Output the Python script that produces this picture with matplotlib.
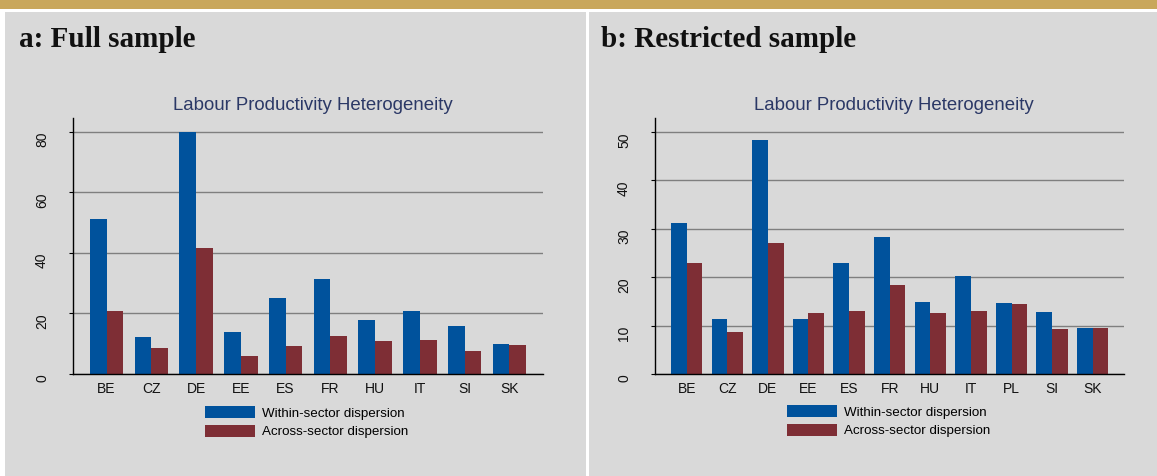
import numpy as np
import matplotlib
matplotlib.use("Agg")
import matplotlib.pyplot as plt
from matplotlib.patches import Rectangle

# data
countries_a = ["BE", "CZ", "DE", "EE", "ES", "FR", "HU", "IT", "SI", "SK"]
within_a = [51.1, 12.3, 80.0, 14.0, 25.1, 31.4, 18.0, 20.9, 15.9, 10.0]
across_a = [20.9, 8.7, 41.6, 6.0, 9.3, 12.6, 11.0, 11.3, 7.7, 9.7]

countries_b = ["BE", "CZ", "DE", "EE", "ES", "FR", "HU", "IT", "PL", "SI", "SK"]
within_b = [31.3, 11.3, 48.4, 11.4, 23.0, 28.4, 14.9, 20.3, 14.7, 12.9, 9.6]
across_b = [23.0, 8.7, 27.1, 12.7, 13.1, 18.3, 12.7, 13.1, 14.5, 9.4, 9.6]

panel_titles = ["a: Full sample", "b: Restricted sample"]
chart_title = "Labour Productivity Heterogeneity"
legend_labels = ["Within-sector dispersion", "Across-sector dispersion"]

BLUE = "#00529c"
RED = "#7e2e35"
GRAY_BG = "#d9d9d9"
GOLD = "#c9a75b"
TITLE_BLUE = "#2b3866"

plt.rcParams['font.family'] = ['Liberation Sans', 'DejaVu Sans']

W, H = 1157, 476
fig = plt.figure(figsize=(W / 100, H / 100), dpi=100)
fig.patch.set_facecolor("white")


def px_box(x0, y0, x1, y1):
    # pixel box (top-left origin) -> figure fraction rect
    return [x0 / W, 1 - y1 / H, (x1 - x0) / W, (y1 - y0) / H]


# background pieces
bg = fig.add_axes([0, 0, 1, 1])
bg.set_xlim(0, W)
bg.set_ylim(H, 0)
bg.axis("off")
bg.add_patch(Rectangle((0, 0), W, 9, color=GOLD, lw=0))
bg.add_patch(Rectangle((5, 12), 581, H - 12, color=GRAY_BG, lw=0))
bg.add_patch(Rectangle((589, 12), W - 589, H - 12, color=GRAY_BG, lw=0))


def draw_panel(box, countries, within, across, step, top, width, xlim,
               title_x, chart_title_x, legend_xy, ptitle):
    ax = fig.add_axes(px_box(*box))
    x = np.arange(len(countries))
    b1 = ax.bar(x - width / 2, within, width, color=BLUE, zorder=2)
    b2 = ax.bar(x + width / 2, across, width, color=RED, zorder=2)
    ax.set_facecolor("none")
    ax.set_xlim(*xlim)
    ax.set_ylim(0, top)
    ax.set_yticks(np.arange(0, top, step))
    ax.set_xticks(x)
    ax.set_xticklabels(countries)
    ax.yaxis.grid(True, color="#7f7f7f", lw=1.0)
    ax.set_axisbelow(True)
    for s in ["top", "right"]:
        ax.spines[s].set_visible(False)
    for s in ["left", "bottom"]:
        ax.spines[s].set_linewidth(1.0)
    ax.tick_params(axis="x", length=0, pad=6, labelsize=10, labelcolor="#111111")
    ax.tick_params(axis="y", length=3.2, width=0.8, pad=14, labelsize=10,
                   labelcolor="#111111")
    for lab in ax.get_yticklabels():
        lab.set_rotation(90)
        lab.set_va("top")
        lab.set_ha("right")

    fig.text(title_x / W, 1 - 47 / H, ptitle, family="Liberation Serif",
             weight="bold", fontsize=21, color="#111111", va="baseline")
    fig.text(chart_title_x / W, 1 - 106 / H, chart_title, fontsize=13.4,
             color=TITLE_BLUE, ha="center", va="center")
    fig.legend([b1, b2], legend_labels, loc="upper left",
               bbox_to_anchor=(legend_xy[0] / W, 1 - legend_xy[1] / H),
               frameon=False, borderpad=0, borderaxespad=0,
               handlelength=3.75, handleheight=1.0, handletextpad=0.55,
               labelspacing=0.4, fontsize=9.6)
    return ax


draw_panel((73, 118, 543, 374), countries_a, within_a, across_a,
           20, 84.6, 0.3725, (-0.75, 9.75), 19, 312.5, (205, 406),
           panel_titles[0])
draw_panel((655, 118, 1124, 374), countries_b, within_b, across_b,
           10, 52.9, 0.385, (-0.78, 10.77), 601, 893.5, (787, 405),
           panel_titles[1])

fig.savefig("out.png", dpi=100)
